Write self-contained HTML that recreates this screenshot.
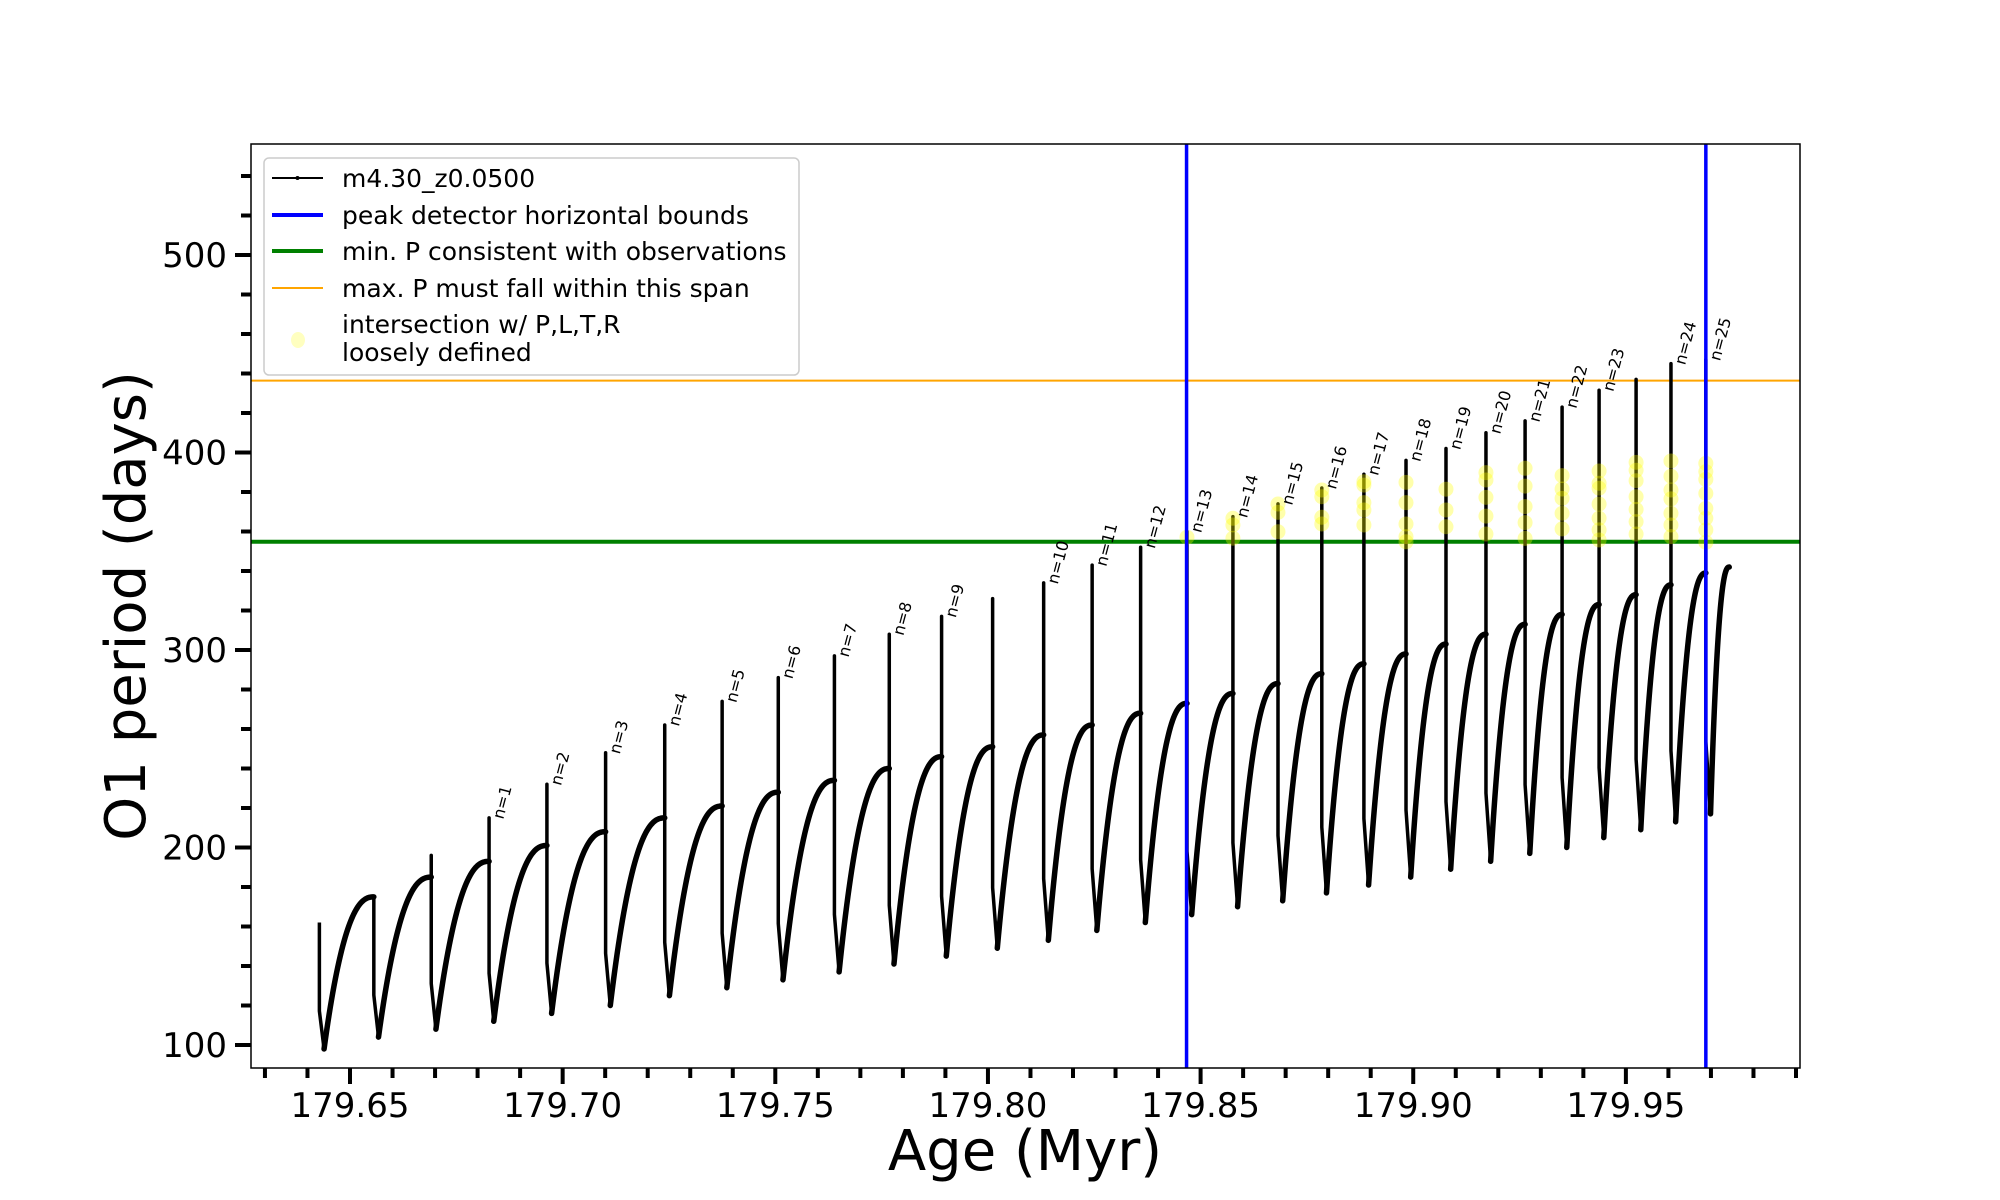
<!DOCTYPE html>
<html><head><meta charset="utf-8"><style>
html,body{margin:0;padding:0;background:#fff;}
svg{display:block;font-family:"DejaVu Sans","Liberation Sans",sans-serif;}
</style></head><body>
<svg id="chart" width="2000" height="1200" viewBox="0 0 2000 1200">
<defs><clipPath id="plotclip"><rect x="251" y="144" width="1549" height="924"/></clipPath></defs>
<rect x="0" y="0" width="2000" height="1200" fill="#fff"/>
<g id="plot" clip-path="url(#plotclip)"></g>
<rect x="251" y="144" width="1549" height="924" fill="none" stroke="#000" stroke-width="1.5"/>
<g id="axes"></g>
<text x="1025" y="1170" font-size="56" text-anchor="middle">Age (Myr)</text>
<text x="0" y="0" font-size="56" text-anchor="middle" transform="translate(145,606) rotate(-90)">O1 period (days)</text>
<g>
<rect x="264" y="158" width="535" height="217" rx="5" fill="#fff" fill-opacity="0.8" stroke="#ccc" stroke-width="1.5"/>
<g><line x1="272" y1="178" x2="323" y2="178" stroke="#000" stroke-width="2"/><circle cx="297.5" cy="178" r="2" fill="#000"/><text x="342" y="187" font-size="25">m4.30_z0.0500</text></g>
<g><line x1="272" y1="215" x2="323" y2="215" stroke="#0000ff" stroke-width="4"/><text x="342" y="224" font-size="25">peak detector horizontal bounds</text></g>
<g><line x1="272" y1="251" x2="323" y2="251" stroke="#008000" stroke-width="4"/><text x="342" y="260" font-size="25">min. P consistent with observations</text></g>
<g><line x1="272" y1="288" x2="323" y2="288" stroke="#ffa500" stroke-width="2"/><text x="342" y="297" font-size="25">max. P must fall within this span</text></g>
<g><ellipse cx="298" cy="340" rx="7" ry="8" fill="#ffffc0"/><text x="342" y="333" font-size="25">intersection w/ P,L,T,R</text><text x="342" y="361" font-size="25">loosely defined</text></g>
</g>
</svg>
<script>
const ages=[179.6428,179.6556,179.6691,179.6827,179.6963,179.7101,179.7240,179.7375,179.7507,179.7639,179.7768,179.7891,179.8011,179.8131,179.8245,179.8359,179.8468,179.8576,179.8682,179.8785,179.8884,179.8983,179.9077,179.9171,179.9263,179.9350,179.9437,179.9524,179.9606,179.9688];
const peaks=[162,175,196,215,232,248,262,274,286,297,308,317,326,334,343,352,360,367.5,374,382,389,396,402,410,416,423,431.5,437,445,447];
const plateaus=[162,175,185,193,201,208,215,221,228,234,240,246,251,257,262,268,273,278,283,288,293,298,303,308,313,318,323,328,333,339];
const mins=[98,104,108,112,116,120,125,129,133,137,141,145,149,153,158,162,166,170,173,177,181,185,189,193,197,200,205,209,213,217];
const pulseLabels=["","","","n=1","n=2","n=3","n=4","n=5","n=6","n=7","n=8","n=9","","n=10","n=11","n=12","n=13","n=14","n=15","n=16","n=17","n=18","n=19","n=20","n=21","n=22","n=23","","n=24","n=25"];
const endAge=179.9743, endVal=342;
const boundAges=[179.8467,179.9688];
const minP=354.8, maxP=436.4;
const circlePulse=[16,17,17,17,18,18,18,19,19,19,19,20,20,20,20,20,21,21,21,21,21,22,22,22,23,23,23,23,23,24,24,24,24,24,25,25,25,25,25,26,26,26,26,26,26,26,27,27,27,27,27,27,27,28,28,28,28,28,28,28,29,29,29,29,29,29,29,29];
const circleVals=[357.1,366.7,363.3,356.6,373.9,369.7,359.9,381,377.6,367.2,363.8,385.2,383.5,374.6,370.9,363.3,384.9,374.6,363.8,357.4,354.8,381.4,370.9,362.4,389.8,386.1,377.3,367.8,358.7,392,383,372.6,364.5,356.5,388.3,381.5,376.8,369.2,361.3,390.6,384.4,381.9,373.9,366.7,360.8,355.7,395,391,385.7,377.6,371.2,365,358.7,395.7,388,381,376.5,369.2,363.3,357.4,394.5,390.3,386.4,379.3,371.7,366.7,360.8,354.5];
const xTicks=[179.65,179.70,179.75,179.80,179.85,179.90,179.95];
const xTickLabels=["179.65","179.70","179.75","179.80","179.85","179.90","179.95"];
const yTicks=[100,200,300,400,500];
const yTickLabels=["100","200","300","400","500"];

const L=251,R=1800,T=144,B=1068, xMin=179.62672, xMax=179.99094, yMin=88.35, yMax=556.2;
const xs=v=>L+(v-xMin)/(xMax-xMin)*(R-L);
const ys=v=>B-(v-yMin)/(yMax-yMin)*(B-T);
const NS="http://www.w3.org/2000/svg";
function mk(tag,attrs,parent){const e=document.createElementNS(NS,tag);for(const k in attrs)e.setAttribute(k,attrs[k]);parent.appendChild(e);return e;}
const plot=document.getElementById('plot'), axes=document.getElementById('axes');

const gl=mk('line',{x1:L,x2:R,y1:ys(minP),y2:ys(minP),stroke:'#008000','stroke-width':4},plot);


const ol=mk('line',{x1:L,x2:R,y1:ys(maxP),y2:ys(maxP),stroke:'#ffa500','stroke-width':2},plot);



let spike="", rec="";
const dMin=0.0011;
for(let i=0;i<ages.length;i++){
  const a=ages[i];
  const mid=mins[i]+0.3*(plateaus[i]-mins[i]);
  spike+=`M${xs(a)},${ys(plateaus[i])}L${xs(a)},${ys(peaks[i])}L${xs(a)},${ys(mid)}L${xs(a+dMin)},${ys(mins[i])}`;
  const a0=a+dMin, a1=(i+1<ages.length)?ages[i+1]:endAge, v0=mins[i], v1=(i+1<ages.length)?plateaus[i+1]:endVal;
  rec+=`M${xs(a0)},${ys(v0)}`;
  const N=40;
  for(let k=1;k<=N;k++){const s=k/N;const f=1-Math.pow(1-s,2.4);rec+=`L${xs(a0+(a1-a0)*s)},${ys(v0+(v1-v0)*f)}`;}
}
const sp=mk('path',{d:spike,fill:'none',stroke:'#000','stroke-width':3.5,'stroke-linejoin':'round'},plot);


const rp=mk('path',{d:rec,fill:'none',stroke:'#000','stroke-width':5.5,'stroke-linecap':'round','stroke-linejoin':'round'},plot);



for(let j=0;j<circleVals.length;j++){
  const c=mk('circle',{cx:xs(ages[circlePulse[j]]),cy:ys(circleVals[j]),r:7.5,fill:'rgba(255,255,0,0.33)'},plot);
  
  
}
for(const b of boundAges){
  const bl=mk('line',{x1:xs(b),x2:xs(b),y1:T,y2:B,stroke:'#0000ff','stroke-width':3.5},plot);
  
  
}
for(let i=0;i<ages.length;i++){
  if(!pulseLabels[i])continue;
  const x=xs(ages[i])+14, y=ys(peaks[i])+2;
  const t=mk('text',{x:0,y:0,'font-size':16,transform:`translate(${x},${y}) rotate(-75)`},axes);
  t.textContent=pulseLabels[i];
  
  
}
for(let k=0;k<=36;k++){
  const v=179.63+k*0.01; if(v>xMax)break;
  const isMaj=xTicks.some(t=>Math.abs(t-v)<1e-6);
  const tk=mk('line',{x1:xs(v),x2:xs(v),y1:B,y2:B+(isMaj?16:10),stroke:'#000','stroke-width':4},axes);
  
  
}
xTicks.forEach((v,i)=>{
  const t=mk('text',{x:xs(v),y:1117,'font-size':34,'text-anchor':'middle'},axes);
  t.textContent=xTickLabels[i];
  
  
});
for(let v=100;v<=540;v+=20){
  const isMaj=yTicks.includes(v);
  const tk=mk('line',{x1:L-(isMaj?16:10),x2:L,y1:ys(v),y2:ys(v),stroke:'#000','stroke-width':4},axes);
  
  
}
yTicks.forEach((v,i)=>{
  const t=mk('text',{x:227,y:ys(v)+12,'font-size':34,'text-anchor':'end'},axes);
  t.textContent=yTickLabels[i];
  
  
});
</script>
</body></html>
